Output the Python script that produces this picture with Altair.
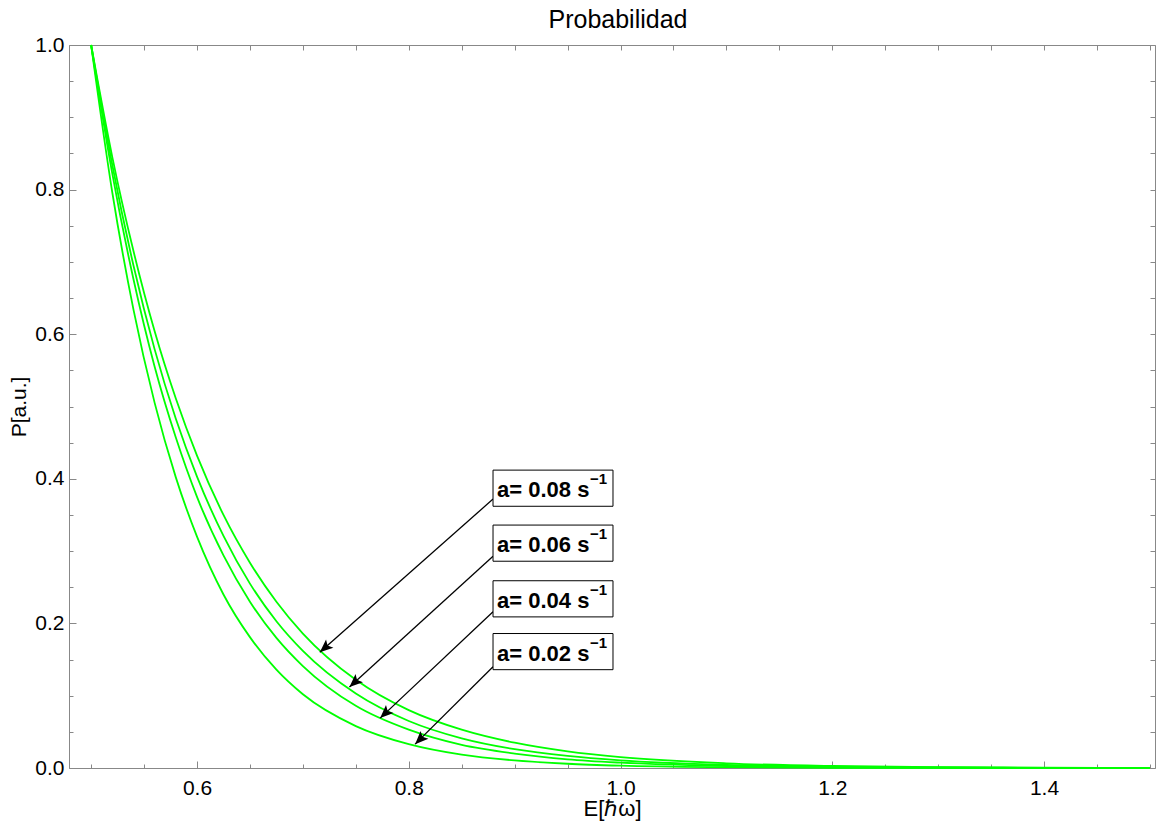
import math
import altair as alt
import pandas as pd

# ---------------- data ----------------
E_VALUES = [0.50, 0.52, 0.54, 0.56, 0.58, 0.60, 0.625, 0.65, 0.675, 0.70,
            0.75, 0.80, 0.85, 0.90, 0.95, 1.00, 1.10, 1.20, 1.30, 1.40, 1.50]
P_A002 = [1.0, 0.796, 0.634, 0.505, 0.402, 0.320, 0.240, 0.181, 0.136, 0.102,
          0.058, 0.033, 0.0185, 0.0105, 0.0059, 0.0033, 0.0011, 0.0003, 0.0001, 0.0, 0.0]
P_A004 = [1.0, 0.822, 0.676, 0.555, 0.457, 0.375, 0.294, 0.230, 0.180, 0.141,
          0.086, 0.053, 0.032, 0.020, 0.012, 0.0074, 0.0028, 0.0010, 0.0004, 0.0001, 0.0]
P_A006 = [1.0, 0.834, 0.695, 0.579, 0.483, 0.403, 0.321, 0.255, 0.203, 0.162,
          0.103, 0.065, 0.041, 0.026, 0.0167, 0.0106, 0.0043, 0.0017, 0.0007, 0.0003, 0.0001]
P_A008 = [1.0, 0.845, 0.715, 0.604, 0.511, 0.432, 0.350, 0.284, 0.230, 0.186,
          0.122, 0.080, 0.053, 0.035, 0.023, 0.015, 0.0065, 0.0028, 0.0012, 0.0005, 0.0002]
SERIES = ["a=0.02", "a=0.04", "a=0.06", "a=0.08"]

LABEL_TEXT = ["a= 0.08 s", "a= 0.06 s", "a= 0.04 s", "a= 0.02 s"]
BOX_E1 = [0.8796, 0.8796, 0.8796, 0.8796]
BOX_E2 = [0.9929, 0.9929, 0.9929, 0.9929]
BOX_P1 = [0.362, 0.286, 0.209, 0.136]
BOX_P2 = [0.412, 0.336, 0.259, 0.186]
ARROW_START_E = [0.8796, 0.8796, 0.8796, 0.8796]
ARROW_START_P = [0.372, 0.293, 0.216, 0.140]
ARROW_TIP_E = [0.716, 0.744, 0.773, 0.806]
ARROW_TIP_P = [0.160, 0.112, 0.069, 0.033]

X_LABEL_TICKS = [0.6, 0.8, 1.0, 1.2, 1.4]
Y_LABEL_TICKS = [0.0, 0.2, 0.4, 0.6, 0.8, 1.0]
X_MINOR = [round(0.5 + 0.05 * i, 2) for i in range(21)]
Y_MINOR = [round(0.05 * i, 2) for i in range(21)]

# ---------------- layout / style ----------------
W, H = 1086, 723
X0 = 0.4791
X1 = X0 + W / 1058.75
FONT = "Liberation Sans"
GRAY = "#888888"
GREEN = "#00ff00"

rows = []
for name, vals in zip(SERIES, [P_A002, P_A004, P_A006, P_A008]):
    for e, p in zip(E_VALUES, vals):
        rows.append({"series": name, "E": e, "P": p})
df_lines = pd.DataFrame(rows)

sx = W / (X1 - X0)
sy = H / 1.0
angles = []
for es, ps, et, pt in zip(ARROW_START_E, ARROW_START_P, ARROW_TIP_E, ARROW_TIP_P):
    dx = (et - es) * sx
    dy = -(pt - ps) * sy
    angles.append(math.degrees(math.atan2(dx, -dy)) % 360)

df_ann = pd.DataFrame({
    "text": LABEL_TEXT,
    "e1": BOX_E1, "e2": BOX_E2, "p1": BOX_P1, "p2": BOX_P2,
    "pc": [(a + b) / 2 for a, b in zip(BOX_P1, BOX_P2)],
    "se": ARROW_START_E, "sp": ARROW_START_P,
    "te": ARROW_TIP_E, "tp": ARROW_TIP_P,
    "angle": angles,
})

xs = alt.Scale(domain=[X0, X1], nice=False, zero=False)
ys = alt.Scale(domain=[0, 1], nice=False, zero=False)

common = dict(grid=False, labelFont=FONT, titleFont=FONT, tickColor=GRAY,
              domainColor=GRAY, labelColor="black", titleColor="black")

ax_x_main = alt.Axis(orient="bottom", values=X_LABEL_TICKS, format=".1f", ticks=False,
                     domain=True, labelFontSize=21, labelPadding=9, title="E[ℏω]",
                     titleFontSize=22, titleFontWeight="normal", titlePadding=0, **common)
ax_y_main = alt.Axis(orient="left", values=Y_LABEL_TICKS, format=".1f", ticks=False,
                     domain=True, labelFontSize=21, labelPadding=5, title="P[a.u.]",
                     titleFontSize=21, titleFontWeight="normal", titlePadding=5, **common)

ax_x_minor = alt.Axis(orient="top", offset=-H, values=X_MINOR, tickSize=4, labels=False,
                      domain=False, title=None, **common)
ax_y_minor = alt.Axis(orient="right", offset=-W, values=Y_MINOR, tickSize=4, labels=False,
                      domain=False, title=None, **common)
ax_x_major = alt.Axis(orient="top", offset=-H, values=X_LABEL_TICKS, tickSize=7, labels=False,
                      domain=False, title=None, **common)
ax_y_major = alt.Axis(orient="right", offset=-W, values=Y_LABEL_TICKS, tickSize=7, labels=False,
                      domain=False, title=None, **common)
ax_x_top = alt.Axis(orient="bottom", offset=-H, values=X_MINOR, tickSize=5, labels=False,
                    domain=True, title=None, **common)
ax_y_right = alt.Axis(orient="left", offset=-W, values=Y_MINOR, tickSize=5, labels=False,
                      domain=True, title=None, **common)

lines = alt.Chart(df_lines).mark_line(color=GREEN, strokeWidth=1.8, interpolate="monotone").encode(
    x=alt.X("E:Q", scale=xs, axis=ax_x_main),
    y=alt.Y("P:Q", scale=ys, axis=ax_y_main),
    detail="series:N",
)

shafts = alt.Chart(df_ann).mark_rule(color="black", strokeWidth=1.3).encode(
    x=alt.X("se:Q", scale=xs, axis=ax_x_minor),
    y=alt.Y("sp:Q", scale=ys, axis=ax_y_minor),
    x2="te:Q",
    y2="tp:Q",
)

ARROW_PATH = "M0,0L-0.42,1L0,0.78L0.42,1Z"
heads = alt.Chart(df_ann).mark_point(shape=ARROW_PATH, filled=True, color="black",
                                     size=700, opacity=1, strokeWidth=0).encode(
    x=alt.X("te:Q", scale=xs, axis=ax_x_major),
    y=alt.Y("tp:Q", scale=ys, axis=ax_y_major),
    angle=alt.Angle("angle:Q", scale=None),
)

boxes = alt.Chart(df_ann).mark_rect(fill="white", stroke="black", strokeWidth=1).encode(
    x=alt.X("e1:Q", scale=xs, axis=ax_x_top),
    x2="e2:Q",
    y=alt.Y("p1:Q", scale=ys, axis=ax_y_right),
    y2="p2:Q",
)

texts = alt.Chart(df_ann).mark_text(align="left", baseline="middle", dx=4, dy=2, fontSize=22,
                                    fontWeight="bold", font=FONT, color="black").encode(
    x=alt.X("e1:Q", scale=xs, axis=None),
    y=alt.Y("pc:Q", scale=ys, axis=None),
    text="text:N",
)

sups = alt.Chart(df_ann).mark_text(align="left", baseline="middle", dx=97, dy=-9, fontSize=15,
                                   fontWeight="bold", font=FONT, color="black",
                                   text="\u22121").encode(
    x=alt.X("e1:Q", scale=xs, axis=None),
    y=alt.Y("pc:Q", scale=ys, axis=None),
)

chart = alt.layer(lines, shafts, heads, boxes, texts, sups).resolve_axis(
    x="independent", y="independent"
).properties(
    width=W,
    height=H,
    title=alt.TitleParams("Probabilidad", fontSize=25, font=FONT, fontWeight="normal",
                          anchor="middle", frame="group", offset=1,
                          color="black", dx=6),
    autosize=alt.AutoSizeParams(type="none"),
    padding={"left": 61, "top": 37, "right": 2, "bottom": 59},
).configure_view(stroke=None)

chart.save("out.html", embed_options={"renderer": "svg", "actions": False})
